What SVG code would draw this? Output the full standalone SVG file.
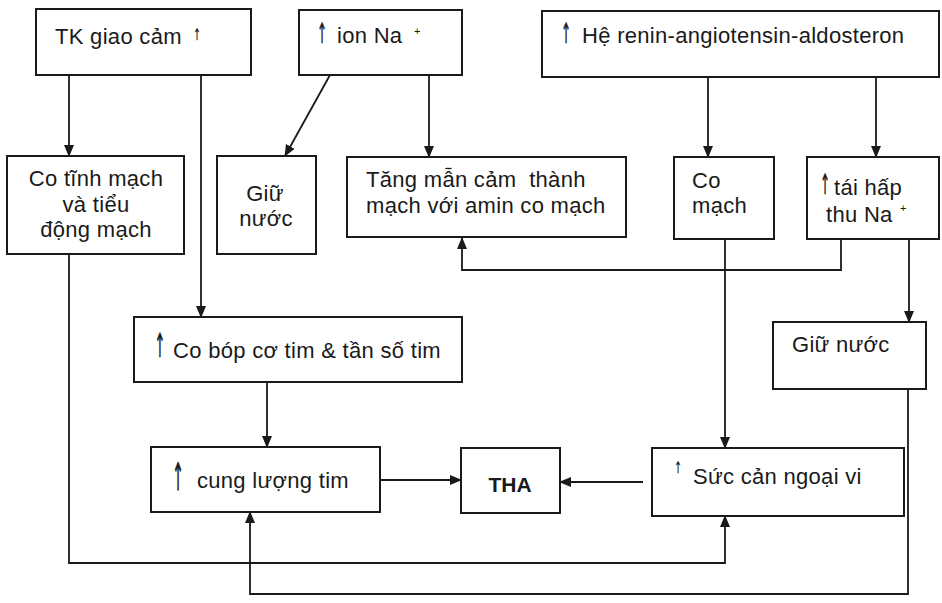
<svg xmlns="http://www.w3.org/2000/svg" width="942" height="603" viewBox="0 0 942 603">
<defs>
<marker id="ah" markerUnits="userSpaceOnUse" markerWidth="12" markerHeight="12" viewBox="0 0 12 12" refX="11" refY="6" orient="auto">
<path d="M0,1 L12,6 L0,11 Z" fill="#1a1a1a"/>
</marker>
<style>
.box{fill:#fff;stroke:#1a1a1a;stroke-width:2}
.t{font-family:"Liberation Sans",Arial,sans-serif;font-size:22px;letter-spacing:0.3px;fill:#1a1a1a}
.m{text-anchor:middle}
.b{font-weight:bold;font-size:21px;letter-spacing:0}
.ar{font-family:"DejaVu Sans",sans-serif;font-size:20px;text-anchor:middle;fill:#1a1a1a;stroke:#1a1a1a;stroke-width:0.4}
.sup{font-family:"Liberation Sans",sans-serif;font-size:11px;fill:#1a1a1a}
.c{fill:none;stroke:#1a1a1a;stroke-width:1.8}
</style>
</defs>
<rect width="942" height="603" fill="#fff"/>

<g id="connectors">
<path class="c" d="M69,75 V156" marker-end="url(#ah)"/>
<path class="c" d="M201,75 V317" marker-end="url(#ah)"/>
<path class="c" d="M330,75 L285,156" marker-end="url(#ah)"/>
<path class="c" d="M429,75 V157" marker-end="url(#ah)"/>
<path class="c" d="M708,77 V157" marker-end="url(#ah)"/>
<path class="c" d="M876,77 V157" marker-end="url(#ah)"/>
<path class="c" d="M841,239 V270 H462 V238" marker-end="url(#ah)"/>
<path class="c" d="M909,239 V322" marker-end="url(#ah)"/>
<path class="c" d="M725,239 V448" marker-end="url(#ah)"/>
<path class="c" d="M267,382 V447" marker-end="url(#ah)"/>
<path class="c" d="M380,480 H461" marker-end="url(#ah)"/>
<path class="c" d="M643,482 H560" marker-end="url(#ah)"/>
<path class="c" d="M69,254 V563 H725 V516" marker-end="url(#ah)"/>
<path class="c" d="M908,389 V594 H250 V512" marker-end="url(#ah)"/>
</g>

<g id="tk-giao-cam">
<rect class="box" x="36" y="9" width="215" height="66"/>
<text class="t" x="55" y="44">TK giao cảm</text>
<text class="ar" transform="translate(197,40) scale(0.45,0.8)">↑</text>
</g>

<g id="ion-na">
<rect class="box" x="299" y="10" width="163" height="65"/>
<text class="ar" transform="translate(322,43) scale(0.6,1.4)">↑</text>
<text class="t" x="337" y="43">ion Na</text>
<text class="sup" x="414" y="35">+</text>
</g>

<g id="renin">
<rect class="box" x="542" y="11" width="397" height="66"/>
<text class="ar" transform="translate(566,43) scale(0.6,1.4)">↑</text>
<text class="t" x="582" y="43">Hệ renin-angiotensin-aldosteron</text>
</g>

<g id="co-tinh-mach">
<rect class="box" x="7" y="156" width="177" height="98"/>
<text class="t m" x="96" y="186">Co tĩnh mạch</text>
<text class="t m" x="96" y="212">và tiểu</text>
<text class="t m" x="96" y="237">động mạch</text>
</g>

<g id="giu-nuoc-1">
<rect class="box" x="217" y="156" width="99" height="98"/>
<text class="t m" x="265" y="201">Giữ</text>
<text class="t m" x="266" y="226">nước</text>
</g>

<g id="tang-man-cam">
<rect class="box" x="347" y="157" width="279" height="80"/>
<text class="t" x="366" y="187" xml:space="preserve">Tăng mẫn cảm  thành</text>
<text class="t" x="366" y="213">mạch với amin co mạch</text>
</g>

<g id="co-mach">
<rect class="box" x="674" y="157" width="100" height="82"/>
<text class="t" x="692" y="188">Co</text>
<text class="t" x="692" y="213">mạch</text>
</g>

<g id="tai-hap-thu">
<rect class="box" x="807" y="157" width="132" height="82"/>
<text class="ar" transform="translate(825,194) scale(0.6,1.4)">↑</text>
<text class="t" x="834" y="195">tái hấp</text>
<text class="t" x="826" y="222">thu Na</text>
<text class="sup" x="900" y="212">+</text>
</g>

<g id="co-bop">
<rect class="box" x="134" y="317" width="328" height="65"/>
<text class="ar" transform="translate(160,357) scale(0.65,1.65)">↑</text>
<text class="t" x="173" y="358">Co bóp cơ tim &amp; tần số tim</text>
</g>

<g id="giu-nuoc-2">
<rect class="box" x="773" y="322" width="153" height="67"/>
<text class="t" x="792" y="352">Giữ nước</text>
</g>

<g id="cung-luong-tim">
<rect class="box" x="151" y="447" width="229" height="65"/>
<text class="ar" transform="translate(178,490) scale(0.7,1.9)">↑</text>
<text class="t" x="197" y="488">cung lượng tim</text>
</g>

<g id="tha">
<rect class="box" x="461" y="448" width="99" height="65"/>
<text class="t m b" x="510" y="492">THA</text>
</g>

<g id="suc-can">
<rect class="box" x="652" y="448" width="252" height="68"/>
<text class="ar" transform="translate(678,473) scale(0.45,0.8)">↑</text>
<text class="t" x="693" y="484">Sức cản ngoại vi</text>
</g>
</svg>
